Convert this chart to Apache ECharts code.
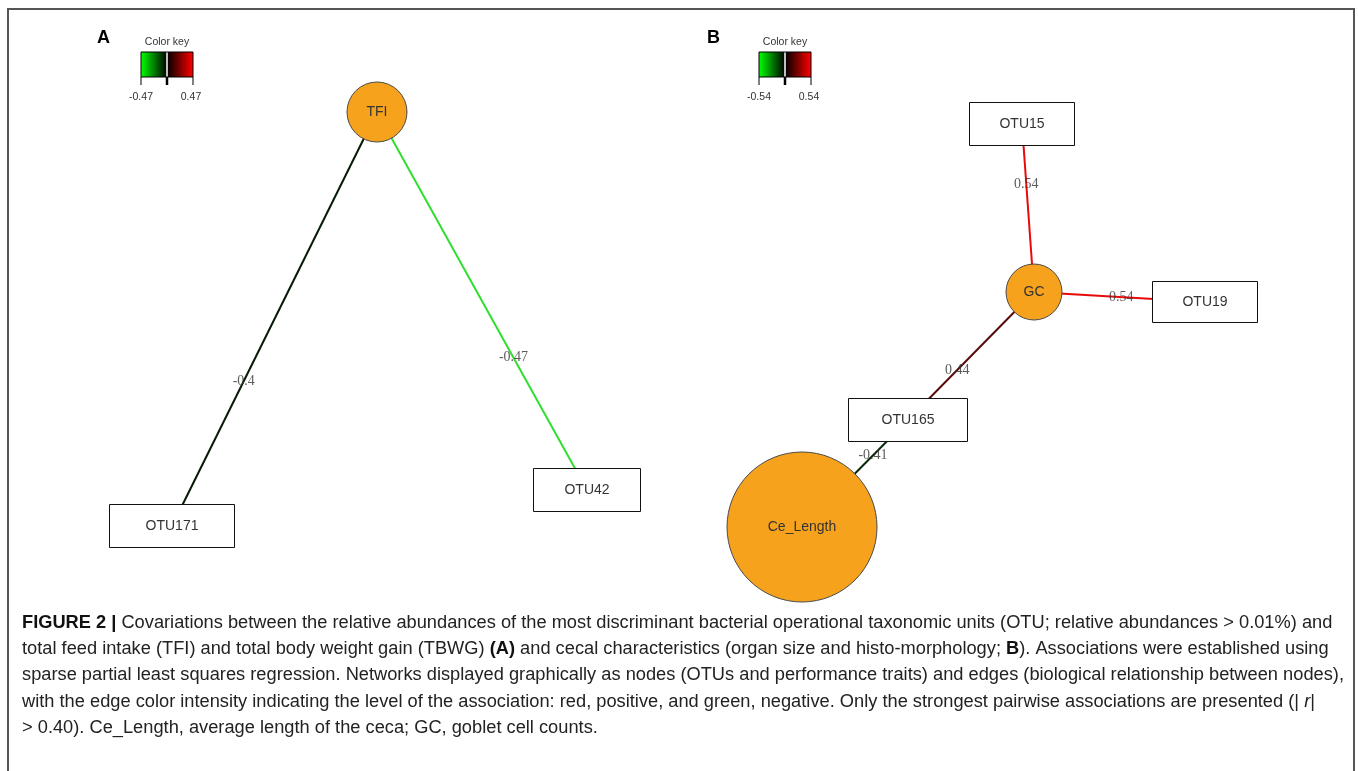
<!DOCTYPE html>
<html>
<head>
<meta charset="utf-8">
<script src="https://cdn.jsdelivr.net/npm/echarts@6/dist/echarts.min.js"></script>
<style>
html,body{margin:0;padding:0;background:#fff;}
#c{width:1358px;height:771px;}
</style>
</head>
<body>
<div id="c"></div>
<script>
// ---------------- data ----------------
const panelLetters = ['A', 'B'];
const nodeNames = ['TFI', 'OTU171', 'OTU42', 'GC', 'OTU15', 'OTU19', 'OTU165', 'Ce_Length'];
const nodeIsTrait = [true, false, false, true, false, false, false, true];
const edgeSource = ['TFI', 'TFI', 'GC', 'GC', 'GC', 'OTU165'];
const edgeTarget = ['OTU171', 'OTU42', 'OTU15', 'OTU19', 'OTU165', 'Ce_Length'];
const edgePanel = [0, 0, 1, 1, 1, 1];
const edgeWeight = [-0.4, -0.47, 0.54, 0.54, 0.44, -0.41];
const colorKeyMax = [0.47, 0.54];
const colorKeyLabels = [['-0.47', '0.47'], ['-0.54', '0.54']];
const threshold = 0.40;

// ---------------- layout (pixel frame) ----------------
const nodeX = [377, 172, 587, 1034, 1022, 1205, 908, 802];
const nodeY = [112, 526, 490, 292, 124, 302, 420, 527];
const nodeSize = [[60, 60], [125, 43], [107, 43], [56, 56], [105, 43], [105, 41], [119, 43], [150, 150]];
const edgeLabelT = [0.65, 0.65, 0.64, 0.51, 0.61, 0.33];
const keyX = [141, 759];
const letterX = [103, 713];

const ORANGE = '#F7A21C';

function edgeColor(w, max) {
  const t = Math.max(0, Math.min(1, (Math.abs(w) - threshold) / (max - threshold)));
  const v = Math.round(28 + t * 207);
  return w > 0 ? 'rgb(' + v + ',10,10)' : 'rgb(' + Math.round(v * 0.2) + ',' + Math.round(v * 0.95) + ',' + Math.round(v * 0.2) + ')';
}

const nodes = nodeNames.map((n, i) => ({
  name: n,
  value: [nodeX[i], nodeY[i]],
  symbol: nodeIsTrait[i] ? 'circle' : 'rect',
  symbolSize: nodeSize[i],
  itemStyle: nodeIsTrait[i]
    ? { color: ORANGE, borderColor: '#4a4a4a', borderWidth: 1 }
    : { color: '#ffffff', borderWidth: 0 },
  label: { show: true, position: 'inside', formatter: n, color: '#333', fontSize: 14, fontFamily: 'Liberation Sans, Arial, sans-serif' }
}));

const boxNodes = [];
nodeNames.forEach((n, i) => { if (!nodeIsTrait[i]) boxNodes.push([nodeX[i], nodeY[i], nodeSize[i][0], nodeSize[i][1]]); });

const links = edgeSource.map((s, i) => ({
  source: s, target: edgeTarget[i],
  lineStyle: { color: edgeColor(edgeWeight[i], colorKeyMax[edgePanel[i]]), width: 2, opacity: 1, curveness: 0 }
}));

const edgeLabels = edgeSource.map((s, i) => {
  const a = nodeNames.indexOf(s), b = nodeNames.indexOf(edgeTarget[i]);
  const t = edgeLabelT[i];
  return { value: [nodeX[a] + t * (nodeX[b] - nodeX[a]), nodeY[a] + t * (nodeY[b] - nodeY[a])], text: String(edgeWeight[i]) };
});

// ---------------- graphics ----------------
const graphic = [];
// frame
graphic.push({ type: 'polyline', shape: { points: [[8, 790], [8, 9], [1354, 9], [1354, 790]] },
  style: { stroke: '#555', lineWidth: 2, fill: null }, z: 1 });

panelLetters.forEach((L, p) => {
  graphic.push({ type: 'text', left: letterX[p] - 6, top: 29,
    style: { text: L, font: 'bold 18px Liberation Sans, Arial, sans-serif', fill: '#000' } });
  const x0 = keyX[p], w = 52, half = 26, y0 = 52, h = 25;
  graphic.push({ type: 'text', x: x0 + w / 2, y: 42,
    style: { text: 'Color key', font: '10.5px Liberation Sans, Arial, sans-serif', fill: '#333', textAlign: 'center', textVerticalAlign: 'middle' } });
  graphic.push({ type: 'rect', shape: { x: x0, y: y0, width: half, height: h },
    style: { fill: new echarts.graphic.LinearGradient(0, 0, 1, 0, [{ offset: 0, color: '#00ff00' }, { offset: 1, color: '#000000' }]) } });
  graphic.push({ type: 'rect', shape: { x: x0 + half, y: y0, width: w - half, height: h },
    style: { fill: new echarts.graphic.LinearGradient(0, 0, 1, 0, [{ offset: 0, color: '#000000' }, { offset: 1, color: '#ff0000' }]) } });
  graphic.push({ type: 'line', shape: { x1: x0 + half, y1: y0, x2: x0 + half, y2: y0 + h }, style: { stroke: '#fff', lineWidth: 1.5 } });
  graphic.push({ type: 'rect', shape: { x: x0, y: y0, width: w, height: h }, style: { fill: null, stroke: '#000', lineWidth: 1 } });
  [[x0, 1], [x0 + half, 2.5], [x0 + w, 1]].forEach(([tx, lw]) => {
    graphic.push({ type: 'line', shape: { x1: tx, y1: y0 + h, x2: tx, y2: y0 + h + 8 }, style: { stroke: '#000', lineWidth: lw } });
  });
  graphic.push({ type: 'text', x: x0, y: 97,
    style: { text: colorKeyLabels[p][0], font: '10.5px Liberation Sans, Arial, sans-serif', fill: '#333', textAlign: 'center', textVerticalAlign: 'middle' } });
  graphic.push({ type: 'text', x: x0 + w - 2, y: 97,
    style: { text: colorKeyLabels[p][1], font: '10.5px Liberation Sans, Arial, sans-serif', fill: '#333', textAlign: 'center', textVerticalAlign: 'middle' } });
});

// caption
const captionLines = [
  '{b|FIGURE 2 |} Covariations between the relative abundances of the most discriminant bacterial operational taxonomic units (OTU; relative abundances > 0.01%) and',
  'total feed intake (TFI) and total body weight gain (TBWG) {b|(A)} and cecal characteristics (organ size and histo-morphology; {b|B}). Associations were established using',
  'sparse partial least squares regression. Networks displayed graphically as nodes (OTUs and performance traits) and edges (biological relationship between nodes),',
  'with the edge color intensity indicating the level of the association: red, positive, and green, negative. Only the strongest pairwise associations are presented (| {i|r}|',
  '> 0.40). Ce_Length, average length of the ceca; GC, goblet cell counts.'
];
const capFont = 'Liberation Sans, Arial, sans-serif';
const capSize = 17.5;
captionLines.forEach((t, i) => {
  graphic.push({ type: 'text', x: 22, y: 623 + i * 26.3, scaleX: 1.043,
    style: { text: t, fill: '#222', fontSize: capSize, fontFamily: capFont, textVerticalAlign: 'middle',
      rich: { b: { fontWeight: 'bold', fontSize: capSize, fontFamily: capFont, fill: '#111' }, i: { fontStyle: 'italic', fontSize: capSize, fontFamily: capFont, fill: '#222' } } } });
});

const chart = echarts.init(document.getElementById('c'), null, { renderer: 'canvas' });
chart.setOption({
  backgroundColor: '#fff',
  animation: false,
  grid: { left: 0, right: 0, top: 0, bottom: 0 },
  xAxis: { type: 'value', min: 0, max: 1358, show: false },
  yAxis: { type: 'value', min: 0, max: 771, inverse: true, show: false },
  graphic: graphic,
  series: [
    {
      type: 'graph', coordinateSystem: 'cartesian2d', layout: 'none',
      data: nodes, links: links, edgeSymbol: ['none', 'none'], z: 2,
      emphasis: { disabled: true }
    },
    {
      type: 'custom', coordinateSystem: 'cartesian2d', z: 3, silent: true,
      data: boxNodes,
      renderItem: function (params, api) {
        const c = api.coord([api.value(0), api.value(1)]);
        const w = api.value(2), h = api.value(3);
        return { type: 'rect', shape: { x: Math.round(c[0]) - w / 2, y: Math.round(c[1]) - h / 2, width: w, height: h },
          style: { fill: 'none', stroke: '#111', lineWidth: 1 } };
      }
    },
    {
      type: 'scatter', symbolSize: 0, z: 5,
      data: edgeLabels,
      label: { show: true, position: 'inside', formatter: p => p.data.text, color: '#333', fontSize: 14,
        fontFamily: 'Liberation Serif, Times New Roman, serif' },
      emphasis: { disabled: true }
    }
  ]
});
</script>
</body>
</html>
